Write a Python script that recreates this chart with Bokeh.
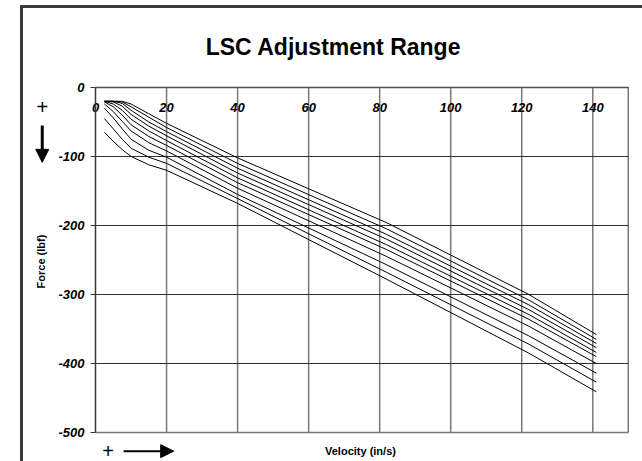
from bokeh.plotting import figure
from bokeh.models import (Range1d, LinearAxis, FixedTicker, Title, Arrow,
                          NormalHead, InlineStyleSheet)
from bokeh.core.properties import value
from bokeh.embed import file_html
from bokeh.resources import INLINE

# ---- data ----
velocity = [2.5, 5, 7.5, 10, 15, 20, 40, 82, 122, 141]
force_0 = [-20, -20, -20, -24, -38, -52, -102, -196, -300, -358]
force_1 = [-20, -20, -21, -28, -43, -58, -110, -205, -308, -365]
force_2 = [-20, -20, -23, -33, -50, -64, -117, -213, -315, -371]
force_3 = [-20, -21, -27, -39, -56, -70, -124, -220, -322, -377]
force_4 = [-20, -24, -33, -46, -63, -77, -131, -228, -329, -384]
force_5 = [-21, -28, -40, -54, -71, -84, -138, -235, -336, -390]
force_6 = [-24, -35, -49, -63, -80, -92, -146, -245, -346, -400]
force_7 = [-30, -44, -60, -75, -91, -101, -155, -257, -360, -414]
force_8 = [-45, -60, -75, -88, -101, -110, -161, -268, -372, -427]
force_9 = [-65, -78, -90, -100, -112, -120, -168, -278, -385, -441]
series = [force_0, force_1, force_2, force_3, force_4,
          force_5, force_6, force_7, force_8, force_9]

x_ticks = [0, 20, 40, 60, 80, 100, 120, 140]
x_tick_labels = ["0", "20", "40", "60", "80", "100", "120", "140"]
y_ticks = [-500, -400, -300, -200, -100, 0]
y_tick_labels = ["-500", "-400", "-300", "-200", "-100", "0"]
x_limits = (0, 150)
y_limits = (-500, 0)

title_text = "LSC Adjustment Range"
x_label = "Velocity  (in/s)"
y_label = "Force  (lbf)"

FONT = "Liberation Sans"
DARK = "#383838"
GREY = "#787878"

# the frame is widened so that the direction markers can be drawn in it;
# the plot area proper is bounded by the axes and the grid segments below
p = figure(width=642, height=461, output_backend="svg", toolbar_location=None,
           x_range=Range1d(-20, 154), y_range=Range1d(-542.0, 36.2),
           x_axis_type=None, y_axis_type=None,
           min_border_left=24, min_border_right=0,
           min_border_top=62, min_border_bottom=0)
p.stylesheets = [InlineStyleSheet(css="""
:host { position: relative; }
:host::after { content: ""; position: absolute; left: 20px; top: 5px;
  width: 622px; height: 456px; border-left: 3px solid #3a3a3a;
  border-top: 3px solid #3a3a3a; pointer-events: none; box-sizing: border-box; }
""")]

p.background_fill_color = "white"
p.border_fill_color = "white"
p.outline_line_color = None
p.xgrid.visible = False
p.ygrid.visible = False

# title
t = Title(text=title_text, align="center", text_font=FONT, text_font_size="23px",
          text_font_style="bold", text_color="black", standoff=6)
p.add_layout(t, "above")

# grid lines of the plot area
v_grid = x_ticks[1:] + [x_limits[1]]
p.segment(x0=v_grid, y0=[y_limits[0]] * len(v_grid),
          x1=v_grid, y1=[y_limits[1]] * len(v_grid),
          line_color=GREY, line_width=1.5)
h_grid = y_ticks[1:]
p.segment(x0=[x_limits[0]] * len(h_grid), y0=h_grid,
          x1=[x_limits[1]] * len(h_grid), y1=h_grid,
          line_color="#303030", line_width=1)

# x tick labels, hanging just below the top edge of the plot area
xtop = LinearAxis(ticker=FixedTicker(ticks=x_ticks), fixed_location=y_limits[1],
                  bounds=x_limits,
                  major_label_overrides=dict(zip(x_ticks, x_tick_labels)))
xtop.axis_line_color = None
xtop.major_tick_line_color = None
xtop.minor_tick_line_color = None
xtop.major_tick_out = 0
xtop.major_tick_in = 0
xtop.major_label_text_font = FONT
xtop.major_label_text_font_style = "bold italic"
xtop.major_label_text_font_size = "13px"
xtop.major_label_text_color = "black"
xtop.major_label_standoff = 16
p.add_layout(xtop, "below")

# y axis on the left edge of the plot area
yax = LinearAxis(ticker=FixedTicker(ticks=y_ticks), axis_label=y_label,
                 fixed_location=x_limits[0], bounds=y_limits,
                 major_label_overrides=dict(zip(y_ticks, y_tick_labels)))
yax.axis_line_color = DARK
yax.axis_line_width = 1.5
yax.major_tick_out = 5
yax.major_tick_in = 0
yax.minor_tick_line_color = None
yax.major_tick_line_color = DARK
yax.major_label_text_font = FONT
yax.major_label_text_font_style = "bold italic"
yax.major_label_text_font_size = "13px"
yax.major_label_text_color = "black"
yax.major_label_standoff = 6
yax.axis_label_text_font = FONT
yax.axis_label_text_font_style = "bold"
yax.axis_label_text_font_size = "11px"
yax.axis_label_text_color = "black"
yax.axis_label_standoff = 8
p.add_layout(yax, "left")

# bottom edge with the axis title
xax = LinearAxis(ticker=FixedTicker(ticks=[]), axis_label=x_label,
                 fixed_location=y_limits[0], bounds=x_limits)
xax.axis_line_color = GREY
xax.axis_line_width = 1.5
xax.major_tick_line_color = None
xax.minor_tick_line_color = None
xax.axis_label_text_font = FONT
xax.axis_label_text_font_style = "bold"
xax.axis_label_text_font_size = "11px"
xax.axis_label_text_color = "black"
xax.axis_label_standoff = 12
p.add_layout(xax, "below")

# top edge of the plot area
xedge = LinearAxis(ticker=FixedTicker(ticks=[]), fixed_location=y_limits[1],
                   bounds=x_limits)
xedge.axis_line_color = "#505050"
xedge.axis_line_width = 1.5
xedge.major_tick_line_color = None
xedge.minor_tick_line_color = None
p.add_layout(xedge, "above")

# curves
for f in series:
    p.line(velocity, f, line_color="black", line_width=1)

# direction markers ("+" and arrows)
p.text(x=[-15, 3.5], y=[-29, -527], text=["+", "+"], text_align="center",
       text_baseline="middle", text_font=value(FONT), text_font_size="20px",
       text_color="black")
p.add_layout(Arrow(x_start=-15, y_start=-55, x_end=-15, y_end=-108.5,
                   line_width=3, line_color="black",
                   end=NormalHead(size=13, fill_color="black", line_color="black",
                                  line_width=1)))
p.add_layout(Arrow(x_start=7.9, y_start=-527, x_end=22.0, y_end=-527,
                   line_width=2, line_color="black",
                   end=NormalHead(size=13, fill_color="black", line_color="black",
                                  line_width=1)))

open("out.html", "w").write(file_html(p, INLINE))
